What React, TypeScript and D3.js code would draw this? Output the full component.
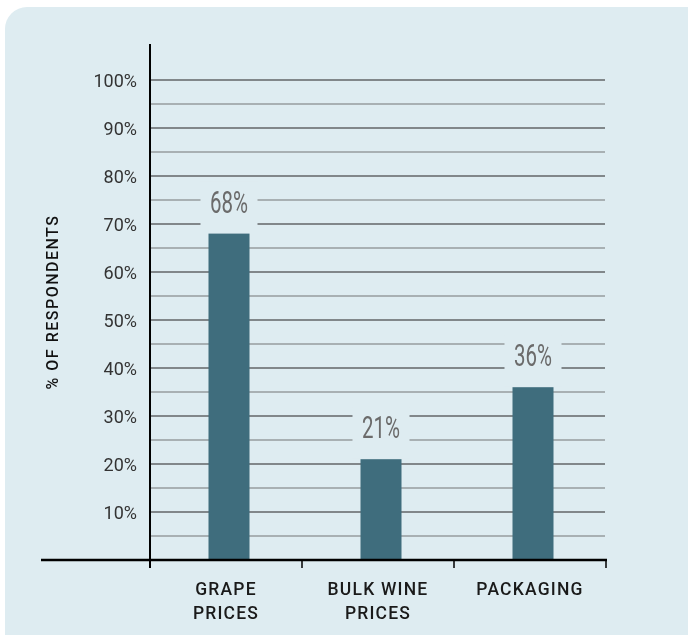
import React from "react";
import * as d3 from "d3";

const categories: string[][] = [["GRAPE", "PRICES"], ["BULK WINE", "PRICES"], ["PACKAGING"]];
const values: number[] = [68, 21, 36];
const tickValues: number[] = [10, 20, 30, 40, 50, 60, 70, 80, 90, 100];
const gridValues: number[] = d3.range(5, 101, 5);
const yTitle = "% OF RESPONDENTS";

const W = 688;
const H = 635;
const BG = "#deecf1";
const BAR = "#3f6d7d";

export default function App() {
  const keys = categories.map((c) => c.join(" "));
  const x = d3.scaleBand<string>().domain(keys).range([150, 606]).padding(0);
  const y = d3.scaleLinear().domain([0, 100]).range([560, 80]);
  const barW = 41;
  const barShift = 3;

  return (
    <svg width={W} height={H} style={{ position: "fixed", top: 0, left: 0, display: "block" }}
      fontFamily="Roboto, 'Noto Sans', sans-serif">
      <rect x={5} y={7} width={710} height={650} rx={22} ry={22} fill={BG} />
      {gridValues.map((v) => (
        <line key={v} x1={150} x2={605} y1={y(v)} y2={y(v)}
          stroke={v % 10 === 0 ? "#81878a" : "#a8b0b3"} strokeWidth={2} />
      ))}
      {values.map((v, i) => {
        const cx = (x(keys[i]) as number) + x.bandwidth() / 2 + barShift;
        const top = y(v);
        const ly = top - 32;
        return (
          <g key={keys[i]}>
            <rect x={cx - 28.5} y={ly - 20} width={57} height={top - ly + 20 - 1} fill={BG} />
            <rect x={cx - barW / 2} y={top} width={barW} height={y(0) - top} fill={BAR} />
            <text transform={`translate(${cx},${ly + 11}) scale(0.66,1)`} textAnchor="middle"
              fontSize={31} fill="#6b6b6b">{v}%</text>
          </g>
        );
      })}
      {/* axes */}
      <line x1={150} x2={150} y1={44} y2={568} stroke="#000" strokeWidth={2} />
      <line x1={41} x2={607} y1={560} y2={560} stroke="#000" strokeWidth={2.5} />
      {keys.slice(1).map((k) => (
        <line key={k} x1={x(k) as number} x2={x(k) as number} y1={560} y2={568} stroke="#000" strokeWidth={1.5} />
      ))}
      <line x1={606} x2={606} y1={560} y2={568} stroke="#000" strokeWidth={1.5} />
      {tickValues.map((v) => (
        <text key={v} x={137} y={y(v) + 6.5} textAnchor="end" fontSize={18} fill="#333">{v}%</text>
      ))}
      <text transform="translate(58,302) rotate(-90)" textAnchor="middle" fontSize={16} fill="#111"
        fontWeight={500} letterSpacing={1.5}>{yTitle}</text>
      {categories.map((lines, i) => {
        const cx = (x(keys[i]) as number) + x.bandwidth() / 2;
        return (
          <text key={keys[i]} textAnchor="middle" fontSize={17.5} fontWeight={500} fill="#1a1a1a" letterSpacing={1.2}>
            {lines.map((l, j) => (
              <tspan key={j} x={cx} y={594.5 + j * 24}>{l}</tspan>
            ))}
          </text>
        );
      })}
    </svg>
  );
}
